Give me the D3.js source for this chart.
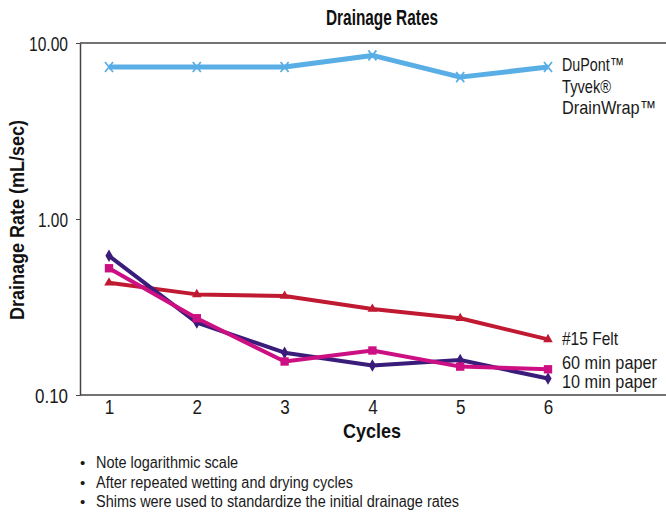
<!DOCTYPE html>
<html><head><meta charset="utf-8">
<script src="https://cdn.jsdelivr.net/npm/d3@7"></script>
<style>
body{margin:0;background:#fff;}
text{font-family:"Liberation Sans",Arial,sans-serif;}
</style></head><body>
<svg id="c" width="666" height="512"></svg>
<script>
const cycles = [1, 2, 3, 4, 5, 6];
const tyvek = [7.3, 7.3, 7.3, 8.5, 6.4, 7.3];
const felt = [0.434, 0.373, 0.365, 0.308, 0.273, 0.207];
const paper60 = [0.525, 0.273, 0.155, 0.179, 0.145, 0.140];
const paper10 = [0.618, 0.258, 0.174, 0.147, 0.158, 0.124];
const yTicks = [0.1, 1, 10];
const notes = ["Note logarithmic scale", "After repeated wetting and drying cycles", "Shims were used to standardize the initial drainage rates"];

const svg = d3.select("#c");
const x = d3.scaleLinear().domain([1, 6]).range([109, 548]);
const y = d3.scaleLog().domain([0.1, 10]).range([395, 43]);
const x0 = 80, x1 = 666;
const ink = "#1a1a1a";

function fit(sel, w) {
  sel.attr("textLength", w).attr("lengthAdjust", "spacingAndGlyphs");
  return sel;
}

// frame lines
svg.append("line").attr("x1", x0).attr("x2", x1).attr("y1", 43).attr("y2", 43).attr("stroke", "#444").attr("stroke-width", 1.5);
svg.append("line").attr("x1", x0).attr("x2", x1).attr("y1", 395).attr("y2", 395).attr("stroke", "#444").attr("stroke-width", 1.5);

// y axis
const ya = svg.append("g").attr("transform", `translate(${x0},0)`)
  .call(d3.axisLeft(y).tickValues(yTicks).tickFormat(d3.format(".2f")).tickSize(4).tickSizeOuter(0));
ya.select(".domain").attr("stroke", "#444").attr("stroke-width", 1.5);
ya.selectAll(".tick line").attr("stroke", "#444");
const yW = {"10.00": 39, "1.00": 30, "0.10": 33};
ya.selectAll(".tick text").attr("font-size", 20).attr("fill", ink).attr("x", -12).attr("dy", "0.36em")
  .style("font-family", '"Liberation Sans",Arial,sans-serif')
  .each(function () { fit(d3.select(this), yW[this.textContent]); });

// x axis
const xa = svg.append("g").attr("transform", `translate(0,395)`)
  .call(d3.axisBottom(x).tickValues(cycles).tickFormat(d3.format("d")).tickSize(0));
xa.select(".domain").remove();
xa.selectAll(".tick text").attr("font-size", 19.5).attr("fill", ink).attr("y", 0).attr("dy", "0.95em")
  .style("font-family", '"Liberation Sans",Arial,sans-serif')
  .each(function () { fit(d3.select(this), 9.5); });

// titles
fit(svg.append("text").attr("x", 326).attr("y", 25)
  .attr("font-size", 22).attr("font-weight", "bold").attr("fill", "#111").text("Drainage Rates"), 112);
fit(svg.append("text").attr("x", 343).attr("y", 438)
  .attr("font-size", 21).attr("font-weight", "bold").attr("fill", "#111").text("Cycles"), 58);
fit(svg.append("text").attr("transform", "translate(24,320) rotate(-90)")
  .attr("font-size", 20).attr("font-weight", "bold").attr("fill", "#111").text("Drainage Rate (mL/sec)"), 200);

const line = d3.line().x((d, i) => x(cycles[i])).y(d => y(d));
const series = [
  {vals: tyvek, color: "#5aaee6", w: 5, marker: "x"},
  {vals: felt, color: "#c01a32", w: 4, sym: d3.symbolTriangle, size: 40},
  {vals: paper10, color: "#3a1c7a", w: 4, sym: d3.symbolDiamond, size: 45},
  {vals: paper60, color: "#cc0f82", w: 4, sym: d3.symbolSquare, size: 70}
];
series.forEach(s => {
  svg.append("path").datum(s.vals).attr("d", line).attr("fill", "none")
    .attr("stroke", s.color).attr("stroke-width", s.w).attr("stroke-linejoin", "round");
  if (s.marker === "x") {
    svg.selectAll(null).data(s.vals).enter().append("path")
      .attr("transform", (d, i) => `translate(${x(cycles[i])},${y(d)})`)
      .attr("d", "M-4,-5L4,5M-4,5L4,-5").attr("stroke", s.color).attr("stroke-width", 1.8);
  } else {
    svg.selectAll(null).data(s.vals).enter().append("path")
      .attr("transform", (d, i) => `translate(${x(cycles[i])},${y(d)})`)
      .attr("d", d3.symbol().type(s.sym).size(s.size)).attr("fill", s.color);
  }
});

// series labels
const lab = (t, yy, w) => fit(svg.append("text").attr("x", 562).attr("y", yy).attr("font-size", 19).attr("fill", ink).text(t), w);
lab("DuPont™", 71, 62); lab("Tyvek®", 93, 49); lab("DrainWrap™", 114, 94);
lab("#15 Felt", 345, 56); lab("60 min paper", 369, 95); lab("10 min paper", 388, 95);

// notes: uniform horizontal condensing
const noteEls = notes.map((n, i) => {
  const yy = 468 + i * 19.5;
  svg.append("text").attr("x", 80).attr("y", yy).attr("font-size", 15).attr("fill", ink).text("•");
  return svg.append("text").attr("x", 96).attr("y", yy).attr("font-size", 16).attr("fill", ink).text(n);
});
const k = 363 / noteEls[2].node().getComputedTextLength();
noteEls.forEach(el => fit(el, el.node().getComputedTextLength() * k));
</script></body></html>
